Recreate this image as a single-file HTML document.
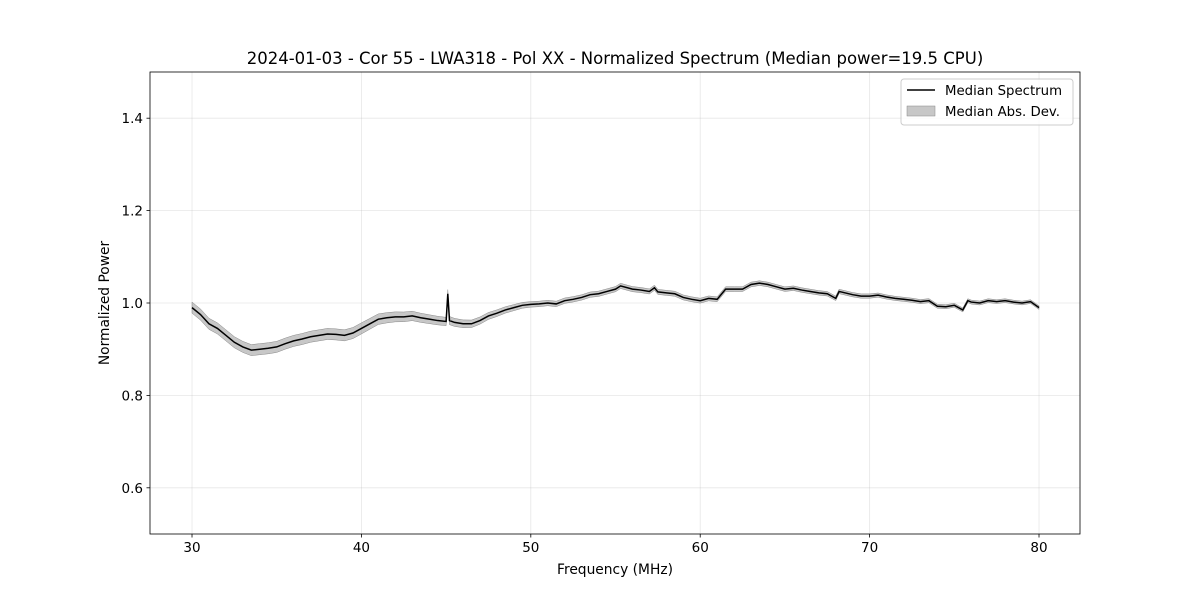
<!DOCTYPE html>
<html><head><meta charset="utf-8"><style>
body{margin:0;background:#fff;font-family:"Liberation Sans","DejaVu Sans",sans-serif;}
svg text{font-family:"DejaVu Sans","Liberation Sans",sans-serif;}
</style></head><body>
<svg id="c" width="1200" height="600" xmlns="http://www.w3.org/2000/svg"></svg>
<script>
const freqs=[30,30.5,31,31.5,32,32.5,33,33.5,34,34.5,35,35.5,36,36.5,37,37.5,38,38.5,39,39.5,40,40.5,41,41.5,42,42.5,43,43.5,44,44.5,45,45.1,45.2,45.5,46,46.5,47,47.5,48,48.5,49,49.5,50,50.5,51,51.5,52,52.5,53,53.5,54,54.5,55,55.3,56,56.5,57,57.3,57.5,58,58.5,59,59.5,60,60.5,61,61.5,62,62.5,63,63.5,64,64.5,65,65.5,66,66.5,67,67.5,68,68.2,69,69.5,70,70.5,71,71.5,72,72.5,73,73.5,74,74.5,75,75.5,75.8,76,76.5,77,77.5,78,78.5,79,79.5,80];
const median=[0.99,0.975,0.955,0.945,0.93,0.915,0.905,0.898,0.9,0.902,0.905,0.912,0.918,0.922,0.927,0.93,0.933,0.932,0.93,0.935,0.945,0.955,0.965,0.968,0.97,0.97,0.972,0.968,0.965,0.962,0.96,1.02,0.962,0.958,0.955,0.955,0.962,0.972,0.978,0.985,0.99,0.995,0.997,0.998,1.0,0.998,1.005,1.008,1.012,1.018,1.02,1.025,1.03,1.037,1.03,1.028,1.025,1.033,1.024,1.022,1.02,1.012,1.008,1.005,1.01,1.008,1.03,1.03,1.03,1.04,1.043,1.04,1.035,1.03,1.032,1.028,1.025,1.022,1.02,1.01,1.025,1.018,1.015,1.015,1.017,1.013,1.01,1.008,1.006,1.003,1.005,0.993,0.992,0.995,0.985,1.005,1.002,1.0,1.005,1.003,1.005,1.002,1.0,1.003,0.99];
const madStart=[30,40,50,80];
const madVal=[0.012,0.012,0.006,0.004];
const xTicks=[30,40,50,60,70,80];
const yTicks=[0.6,0.8,1.0,1.2,1.4];
const L=150,R=1080,T=72,B=534,X0=27.52,X1=82.42,Y0=0.5,Y1=1.5;
const sx=v=>L+(v-X0)/(X1-X0)*(R-L), sy=v=>B-(v-Y0)/(Y1-Y0)*(B-T);
const svg=document.getElementById('c');const NS='http://www.w3.org/2000/svg';
function el(t,a,p){const e=document.createElementNS(NS,t);for(const k in a)e.setAttribute(k,a[k]);(p||svg).appendChild(e);return e;}
function mad(f){for(let i=0;i<madStart.length-1;i++){if(f<=madStart[i+1]){const t=(f-madStart[i])/(madStart[i+1]-madStart[i]);return madVal[i]+t*(madVal[i+1]-madVal[i]);}}return madVal[madVal.length-1];}
xTicks.forEach(v=>{const g=el('line',{x1:sx(v),x2:sx(v),y1:T,y2:B,stroke:'#b0b0b0','stroke-opacity':0.3,'stroke-width':0.8});

el('line',{x1:sx(v),x2:sx(v),y1:B,y2:B+3.5,stroke:'#000','stroke-width':0.8});
const t=el('text',{x:sx(v),y:B+18,'text-anchor':'middle','font-size':13.5});t.textContent=v;
});
yTicks.forEach(v=>{const g=el('line',{x1:L,x2:R,y1:sy(v),y2:sy(v),stroke:'#b0b0b0','stroke-opacity':0.3,'stroke-width':0.8});

el('line',{x1:L-3.5,x2:L,y1:sy(v),y2:sy(v),stroke:'#000','stroke-width':0.8});
const t=el('text',{x:L-7,y:sy(v)+5,'text-anchor':'end','font-size':13.5});t.textContent=v.toFixed(1);
});
let up=freqs.map((f,i)=>sx(f)+','+sy(median[i]+mad(f))).join(' ');
let dn=freqs.map((f,i)=>sx(f)+','+sy(median[i]-mad(f))).reverse().join(' ');
const band=el('polygon',{points:up+' '+dn,fill:'#999','fill-opacity':0.55,stroke:'#888','stroke-width':0.5});

const line=el('polyline',{points:freqs.map((f,i)=>sx(f)+','+sy(median[i])).join(' '),fill:'none',stroke:'#000','stroke-width':1.5});

const fr=el('rect',{x:L,y:T,width:R-L,height:B-T,fill:'none',stroke:'#000','stroke-width':0.8});

const tt=el('text',{x:(L+R)/2,y:64,'text-anchor':'middle','font-size':16.5});tt.textContent='2024-01-03 - Cor 55 - LWA318 - Pol XX - Normalized Spectrum (Median power=19.5 CPU)';

const xl=el('text',{x:(L+R)/2,y:574,'text-anchor':'middle','font-size':13.8});xl.textContent='Frequency (MHz)';

const yl=el('text',{x:109,y:(T+B)/2,'text-anchor':'middle','font-size':13.8,transform:'rotate(-90 109 '+(T+B)/2+')'});yl.textContent='Normalized Power';

const lg=el('g',{});
el('rect',{x:901,y:79,width:172,height:46,rx:3,fill:'#fff','fill-opacity':0.8,stroke:'#ccc'},lg);
const l1=el('line',{x1:907,x2:935,y1:90,y2:90,stroke:'#000','stroke-width':1.5},lg);

const t1=el('text',{x:945,y:95,'font-size':13.3},lg);t1.textContent='Median Spectrum';

const r2=el('rect',{x:907,y:106,width:28,height:10,fill:'#999','fill-opacity':0.55,stroke:'#888','stroke-width':0.5},lg);

const t2=el('text',{x:945,y:116,'font-size':13.3},lg);t2.textContent='Median Abs. Dev.';

</script>
</body></html>
